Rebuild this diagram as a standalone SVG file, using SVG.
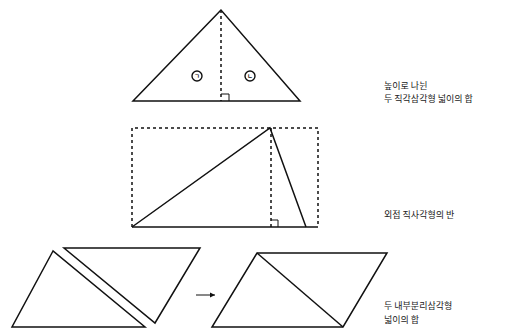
<svg xmlns="http://www.w3.org/2000/svg" width="505" height="335" viewBox="0 0 505 335">
<style>
.s{fill:none;stroke:#111;stroke-width:1.5;stroke-linejoin:miter}
.d{fill:none;stroke:#111;stroke-width:1.5;stroke-dasharray:3 3}
.m{fill:none;stroke:#111;stroke-width:1}
.o{fill:none;stroke:#111;stroke-width:1.4}
.t{font-family:"Noto Sans CJK KR","Noto Sans",sans-serif;font-size:9px;fill:#222}
.c{font-family:"Noto Sans CJK KR",sans-serif;font-size:6px;font-weight:bold;fill:#111;text-anchor:middle}
</style>
<defs>
<marker id="ah" markerWidth="6" markerHeight="6" refX="5" refY="3" orient="auto" markerUnits="userSpaceOnUse">
<path d="M0,0.5 L5,3 L0,5.5 Z" fill="#111"/>
</marker>
</defs>
<g id="triangle-height">
<polygon class="s" points="221,10 133,101 300,101"/>
<line class="d" x1="221" y1="10" x2="221" y2="101"/>
<polyline class="m" points="221,94 229,94 229,101"/>
<circle class="o" cx="197" cy="76" r="5"/>
<text class="c" x="197" y="78.3">ㄱ</text>
<circle class="o" cx="250" cy="76" r="5"/>
<text class="c" x="250" y="78.3">ㄴ</text>
</g>
<g id="label-1">
<text class="t" x="384" y="89">높이로 나뉜</text>
<text class="t" x="384" y="102">두 직각삼각형 넓이의 합</text>
</g>
<g id="rectangle-half">
<polyline class="d" points="132,227 132,128 318,128 318,227"/>
<line class="s" x1="132" y1="227" x2="318" y2="227"/>
<line class="d" x1="271" y1="128" x2="271" y2="227"/>
<polyline class="m" points="271,220 278,220 278,227"/>
<polyline class="s" points="132,227 270,128 306,227"/>
</g>
<g id="label-2">
<text class="t" x="384" y="218">외접 직사각형의 반</text>
</g>
<g id="split-triangles">
<polygon class="s" points="53,251 12,327 145,327"/>
<polygon class="s" points="64,248 200,248 155,323"/>
</g>
<g id="parallelogram">
<polygon class="s" points="257,253 387,253 343,327 212,327"/>
<line class="s" x1="257" y1="253" x2="343" y2="327"/>
</g>
<g id="connectors">
<line class="m" x1="196" y1="295" x2="215" y2="295" marker-end="url(#ah)"/>
</g>
<g id="label-3">
<text class="t" x="384" y="309">두 내부분리삼각형</text>
<text class="t" x="384" y="323">넓이의 합</text>
</g>
</svg>
